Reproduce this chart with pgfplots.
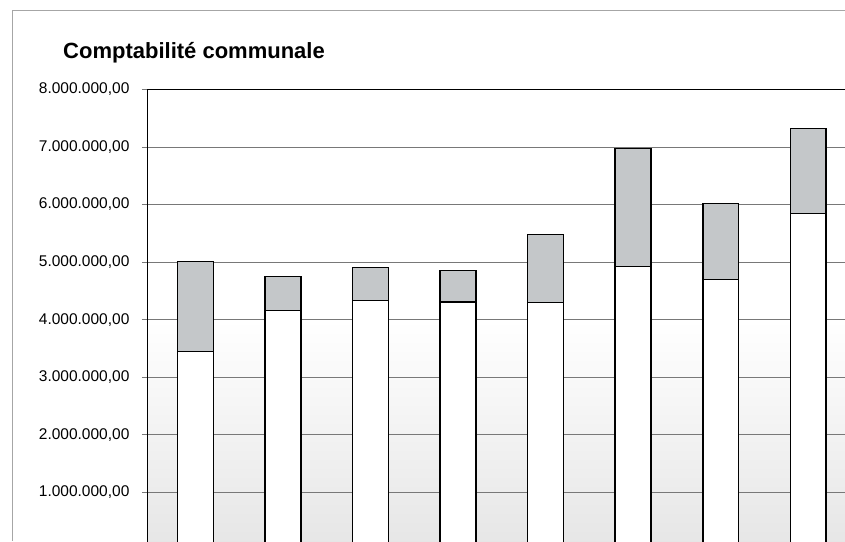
\documentclass[border=0pt]{standalone}
\usepackage{pgfplots}
\pgfplotsset{compat=1.18}
\usepackage{fontspec}
\setmainfont{Liberation Sans}
\definecolor{bargray}{RGB}{196,199,201}
\definecolor{gridgray}{RGB}{120,120,120}

% values in millions
\pgfplotstableread{
x  base   top
0  3.45   1.56
1  4.16   0.59
2  4.33   0.58
3  4.31   0.54
4  4.30   1.18
5  4.92   2.05
6  4.70   1.32
7  5.84   1.48
}\compta

\begin{document}
\begin{tikzpicture}[x=1pt,y=1pt]
  \useasboundingbox (0,0) rectangle (845,541);
  \clip (0,0) rectangle (845,541);
  \fill[white] (0,0) rectangle (845,541);
  % outer frame of the scanned chart
  \draw[gray!70, line width=0.6pt] (12,0) -- (12,531) -- (845,531);
  \node[anchor=base west, inner sep=0pt, font=\bfseries\fontsize{22}{24}\selectfont] at (63,482) {Comptabilité communale};

  \begin{axis}[
      at={(169,-15.6)}, anchor=south west,
      scale only axis,
      width=704.1pt, height=460.6pt,
      xmin=-0.543, xmax=7.5,
      ymin=0, ymax=8,
      ybar stacked,
      bar width=0.41,
      axis x line=none,
      axis y line*=left,
      axis line style={black, line width=0.9pt},
      ytick={1,...,8},
      yticklabels={{1.000.000,00},{2.000.000,00},{3.000.000,00},{4.000.000,00},
                   {5.000.000,00},{6.000.000,00},{7.000.000,00},{8.000.000,00}},
      yticklabel style={font=\fontsize{15.5}{17}\selectfont, xshift=-9pt},
      tick align=outside,
      major tick length=6pt,
      ytick style={gridgray, line width=0.7pt},
      ymajorgrids,
      major grid style={gridgray, line width=0.7pt},
      axis background/.style={shade, top color=white, bottom color=black!10, middle color=white},
      clip=false,
    ]
    \addplot[fill=white, draw=black, line width=1.5pt] table[x=x, y=base] {\compta};
    \addplot[fill=bargray, draw=black, line width=1.5pt] table[x=x, y=top] {\compta};
    % top border of the plot area
    \draw[black, line width=1.3pt] (axis cs:-0.543,8) -- (axis cs:7.5,8);
  \end{axis}
\end{tikzpicture}
\end{document}
